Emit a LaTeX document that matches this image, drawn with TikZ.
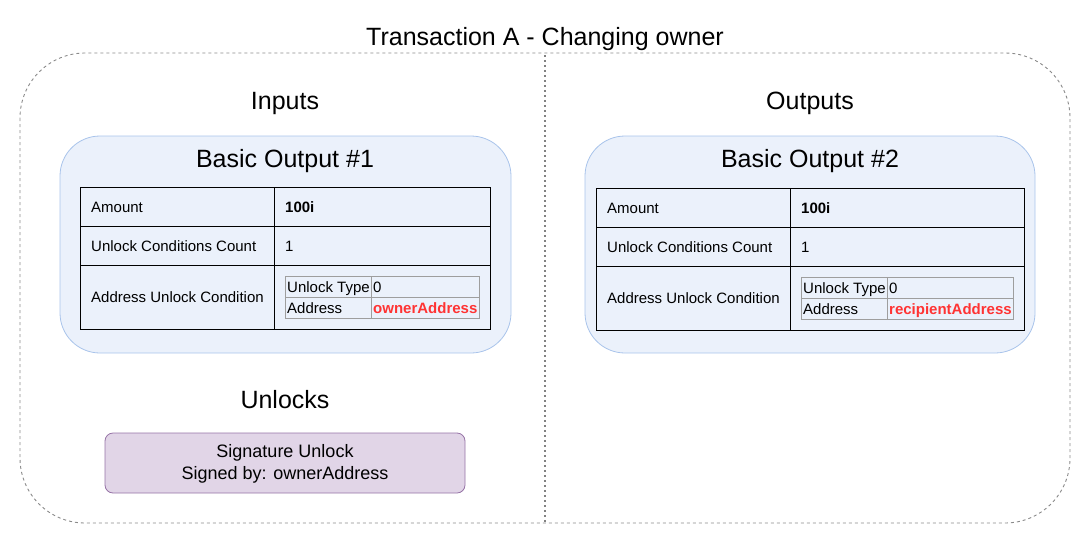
\documentclass[tikz,border=0pt]{standalone}
\usepackage{fontspec}
\setmainfont{Liberation Sans}

\definecolor{panelfill}{HTML}{EBF1FB}
\definecolor{panelline}{HTML}{A9C4EB}
\definecolor{unlockfill}{HTML}{E1D5E7}
\definecolor{unlockline}{HTML}{9673A6}
\definecolor{addrred}{HTML}{FF3333}
\definecolor{framegray}{HTML}{8A8A8A}
\definecolor{cellgray}{HTML}{9E9E9E}

\tikzset{
  heading/.style={inner sep=0pt, font=\fontsize{25}{30}\selectfont, text height=18pt, text depth=0pt},
  cell/.style={anchor=west, inner sep=0pt, font=\fontsize{15}{18}\selectfont, text height=10.8pt, text depth=0pt},
  panel/.style={draw=panelline, fill=panelfill, rounded corners=40pt, line width=0.8pt},
  grid/.style={draw=black, line width=1pt},
  subgrid/.style={draw=cellgray, line width=0.8pt}
}

\begin{document}
\begin{tikzpicture}[x=1pt, y=-1pt]
\useasboundingbox (0,0) rectangle (1091,546);

% Frame and divider
\draw[framegray, line width=0.9pt, dash pattern=on 3pt off 3pt, rounded corners=65pt] (20,53) rectangle (1070,523);
\draw[black, line width=1.6pt, line cap=round, dash pattern=on 0pt off 5pt] (545,56) -- (545,522);

% Headings
\node[heading] (title) at (545,36) {Transaction A - Changing owner};
\node[heading] (inputs) at (285,100) {Inputs};
\node[heading] (outputs) at (810,100) {Outputs};
\node[heading] (unlocks) at (285,399) {Unlocks};

% Basic Output #1
\path[panel] (60,136) rectangle (511,353);
\node[heading] (out1) at (285,158) {Basic Output \#1};
\draw[grid] (80,187) rectangle (490,329);
\draw[grid] (274,187) -- (274,329);
\draw[grid] (80,226) -- (490,226);
\draw[grid] (80,265) -- (490,265);
\node[cell] (out1amount) at (91,207) {Amount};
\node[cell] (out1amountval) at (285,207) {\bfseries 100i};
\node[cell] (out1count) at (91,246) {Unlock Conditions Count};
\node[cell] (out1countval) at (285,246) {1};
\node[cell] (out1cond) at (91,297.5) {Address Unlock Condition};
\draw[subgrid] (285,276) rectangle (479,318);
\draw[subgrid] (371,276) -- (371,318);
\draw[subgrid] (285,297) -- (479,297);
\node[cell] (out1type) at (287,287) {Unlock Type};
\node[cell] (out1typeval) at (373,287) {0};
\node[cell] (out1addr) at (287,308) {Address};
\node[cell, text=addrred] (out1addrval) at (373,308) {\bfseries ownerAddress};

% Basic Output #2
\path[panel] (585,136) rectangle (1035,353);
\node[heading] (out2) at (810,158) {Basic Output \#2};
\draw[grid] (596,188) rectangle (1024,330);
\draw[grid] (790,188) -- (790,330);
\draw[grid] (596,227) -- (1024,227);
\draw[grid] (596,266) -- (1024,266);
\node[cell] (out2amount) at (607,208) {Amount};
\node[cell] (out2amountval) at (801,208) {\bfseries 100i};
\node[cell] (out2count) at (607,247) {Unlock Conditions Count};
\node[cell] (out2countval) at (801,247) {1};
\node[cell] (out2cond) at (607,298.5) {Address Unlock Condition};
\draw[subgrid] (801,277) rectangle (1013,319);
\draw[subgrid] (887,277) -- (887,319);
\draw[subgrid] (801,298) -- (1013,298);
\node[cell] (out2type) at (803,288) {Unlock Type};
\node[cell] (out2typeval) at (889,288) {0};
\node[cell] (out2addr) at (803,309) {Address};
\node[cell, text=addrred] (out2addrval) at (889,309) {\bfseries recipientAddress};

% Signature unlock
\draw[unlockline, fill=unlockfill, rounded corners=8pt, line width=0.8pt] (105,433) rectangle (465,493);
\node[align=center, font=\fontsize{18}{22}\selectfont] (sigunlock) at (285,464) {Signature Unlock\\Signed by: ownerAddress};

\end{tikzpicture}
\end{document}
